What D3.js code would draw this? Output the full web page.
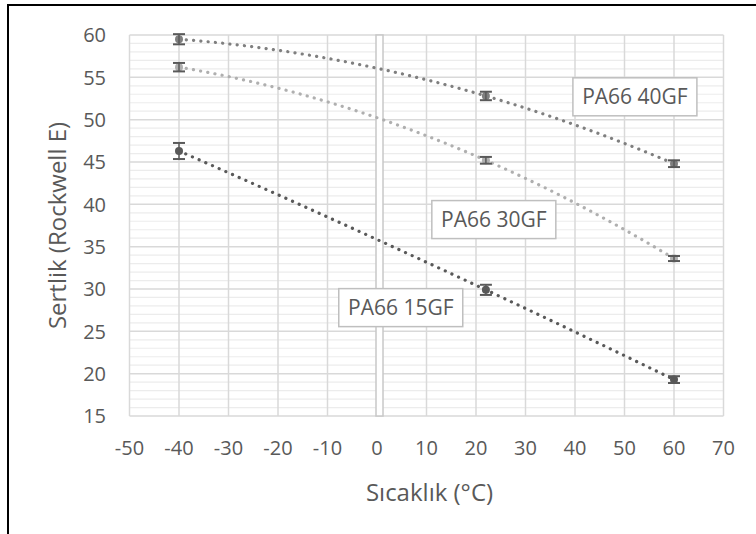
<!DOCTYPE html>
<html>
<head>
<meta charset="utf-8">
<script src="https://cdn.jsdelivr.net/npm/d3@7/dist/d3.min.js"></script>
<style>
  body { margin: 0; background: #fff; }
  svg text { font-family: "Open Sans", "Noto Sans", sans-serif; fill: #595959; }
</style>
</head>
<body>
<svg id="chart" width="756" height="534"></svg>
<script>
// temperatures (°C) where hardness was measured
var temps = [-40, 22, 60];

// hardness per material (Rockwell E) and error bar half-widths
var pa40 = [59.5, 52.8, 44.8];
var pa40err = [0.6, 0.5, 0.4];
var pa30 = [56.2, 45.2, 33.6];
var pa30err = [0.5, 0.4, 0.3];
var pa15 = [46.3, 29.9, 19.3];
var pa15err = [0.95, 0.6, 0.4];

var seriesNames = ["PA66 40GF", "PA66 30GF", "PA66 15GF"];
var xTicks = [-50, -40, -30, -20, -10, 0, 10, 20, 30, 40, 50, 60, 70];
var yTicks = [15, 20, 25, 30, 35, 40, 45, 50, 55, 60];

var series = [
  {name: seriesNames[0], y: pa40, err: pa40err, color: "#7f7f7f", lx: 52.1, ly: 52.7},
  {name: seriesNames[1], y: pa30, err: pa30err, color: "#afafaf", lx: 23.6, ly: 38.2},
  {name: seriesNames[2], y: pa15, err: pa15err, color: "#595959", lx: 4.8, ly: 27.8}
];

var svg = d3.select("#chart");
var x = d3.scaleLinear().domain([-50, 70]).range([129.5, 723.5]);
var y = d3.scaleLinear().domain([15, 60]).range([416, 35]);

// outer frame (only top and left edges are visible)
svg.append("rect")
  .attr("x", 8).attr("y", 5)
  .attr("width", 800).attr("height", 600)
  .attr("fill", "none").attr("stroke", "#000").attr("stroke-width", 2);

// minor horizontal gridlines every unit
var grid = svg.append("g");
grid.selectAll("line.minor")
  .data(d3.range(16, 60).filter(function(v){ return v % 5 != 0; }))
  .enter().append("line")
  .attr("x1", x(-50)).attr("x2", x(70))
  .attr("y1", function(d){ return y(d); }).attr("y2", function(d){ return y(d); })
  .attr("stroke", "#ececec").attr("stroke-width", 1.2);

grid.selectAll("line.hmajor")
  .data(yTicks)
  .enter().append("line")
  .attr("x1", x(-50)).attr("x2", x(70))
  .attr("y1", function(d){ return y(d); }).attr("y2", function(d){ return y(d); })
  .attr("stroke", "#d9d9d9").attr("stroke-width", 1.5);

grid.selectAll("line.vmajor")
  .data(xTicks)
  .enter().append("line")
  .attr("y1", y(15)).attr("y2", y(60))
  .attr("x1", function(d){ return x(d); }).attr("x2", function(d){ return x(d); })
  .attr("stroke", "#d9d9d9").attr("stroke-width", 1.5);

// vertical value axis drawn at x = 0
svg.append("rect")
  .attr("x", x(0) - 1).attr("y", y(60))
  .attr("width", 7).attr("height", y(15) - y(60))
  .attr("fill", "#fff").attr("stroke", "#c8c8c8").attr("stroke-width", 1.5);

// tick labels
svg.append("g").selectAll("text")
  .data(yTicks).enter().append("text")
  .attr("x", 106).attr("y", function(d){ return y(d); })
  .attr("dy", "0.36em")
  .attr("text-anchor", "end")
  .style("font-size", "20px")
  .text(function(d){ return d; });

svg.append("g").selectAll("text")
  .data(xTicks).enter().append("text")
  .attr("x", function(d){ return x(d); }).attr("y", 455)
  .attr("text-anchor", "middle")
  .style("font-size", "20px")
  .text(function(d){ return d; });

// axis titles
svg.append("text")
  .attr("transform", "translate(66," + ((y(15) + y(60)) / 2) + ") rotate(-90)")
  .attr("text-anchor", "middle")
  .style("font-size", "24px")
  .text("Sertlik (Rockwell E)");

svg.append("text")
  .attr("x", (x(-50) + x(70)) / 2 + 3).attr("y", 501)
  .attr("text-anchor", "middle")
  .style("font-size", "24px")
  .text("Sıcaklık (°C)");

// quadratic trendline (least squares, order 2) like the spreadsheet's
function polyFit(xs, ys) {
  var n = xs.length, s = [0, 0, 0, 0, 0], t = [0, 0, 0];
  for (var i = 0; i < n; i++) {
    for (var k = 0; k < 5; k++) s[k] += Math.pow(xs[i], k);
    for (var k2 = 0; k2 < 3; k2++) t[k2] += ys[i] * Math.pow(xs[i], k2);
  }
  var m = [[s[0], s[1], s[2], t[0]], [s[1], s[2], s[3], t[1]], [s[2], s[3], s[4], t[2]]];
  for (var c = 0; c < 3; c++) {
    for (var r = c + 1; r < 3; r++) {
      var f = m[r][c] / m[c][c];
      for (var j = c; j < 4; j++) m[r][j] -= f * m[c][j];
    }
  }
  var b = [0, 0, 0];
  for (var r2 = 2; r2 >= 0; r2--) {
    var v = m[r2][3];
    for (var j2 = r2 + 1; j2 < 3; j2++) v -= m[r2][j2] * b[j2];
    b[r2] = v / m[r2][r2];
  }
  return function(xv){ return b[0] + b[1] * xv + b[2] * xv * xv; };
}

var line = d3.line()
  .x(function(d){ return x(d[0]); })
  .y(function(d){ return y(d[1]); });

series.forEach(function(s){
  var fit = polyFit(temps, s.y);
  var pts = d3.range(temps[0], temps[2] + 0.5, 1).map(function(t){ return [t, fit(t)]; });
  svg.append("path")
    .datum(pts)
    .attr("d", line)
    .attr("fill", "none")
    .attr("stroke", s.color)
    .attr("stroke-width", 3.2)
    .attr("stroke-linecap", "round")
    .attr("stroke-dasharray", "0.1 7.2");

  var g = svg.append("g");
  g.selectAll("circle")
    .data(temps).enter().append("circle")
    .attr("cx", function(d){ return x(d); })
    .attr("cy", function(d, i){ return y(s.y[i]); })
    .attr("r", 4)
    .attr("fill", s.color);

  // error bars
  temps.forEach(function(t, i){
    var lo = y(s.y[i] - s.err[i]), hi = y(s.y[i] + s.err[i]);
    g.append("line").attr("x1", x(t)).attr("x2", x(t)).attr("y1", lo).attr("y2", hi)
      .attr("stroke", "#595959").attr("stroke-width", 1.5);
    [lo, hi].forEach(function(yy){
      g.append("line").attr("x1", x(t) - 6).attr("x2", x(t) + 6).attr("y1", yy).attr("y2", yy)
        .attr("stroke", "#595959").attr("stroke-width", 2);
    });
  });
});

// series labels in boxes
series.forEach(function(s){
  var cx = x(s.lx), cy = y(s.ly);
  svg.append("rect")
    .attr("x", cx - 62).attr("y", cy - 19)
    .attr("width", 124).attr("height", 38)
    .attr("fill", "#fff").attr("stroke", "#bfbfbf").attr("stroke-width", 1.5);
  svg.append("text")
    .attr("x", cx).attr("y", cy).attr("dy", "0.36em")
    .attr("text-anchor", "middle")
    .style("font-size", "21px")
    .text(s.name);
});
</script>
</body>
</html>
